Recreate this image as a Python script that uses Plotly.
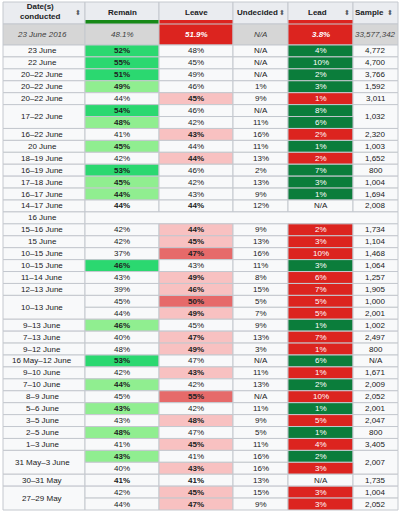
import plotly.graph_objects as go

# ---------------- data ----------------
headers = ["Date(s)<br>conducted", "Remain", "Leave", "Undecided", "Lead", "Sample"]
header_sortable = [True, False, False, True, True, True]

result_date = "23 June 2016"
result_remain = "48.1%"
result_leave = "51.9%"
result_undecided = "N/A"
result_lead = "3.8%"
result_sample = "33,577,342"

dates = ["23 June", "22 June", "20–22 June", "20–22 June", "20–22 June", "17–22 June", None,
         "16–22 June", "20 June", "18–19 June", "16–19 June", "17–18 June", "16–17 June",
         "14–17 June", "16 June", "15–16 June", "15 June", "10–15 June", "10–15 June",
         "11–14 June", "12–13 June", "10–13 June", None, "9–13 June", "7–13 June", "9–12 June",
         "16 May–12 June", "9–10 June", "7–10 June", "8–9 June", "5–6 June", "3–5 June",
         "2–5 June", "1–3 June", "31 May–3 June", None, "30–31 May", "27–29 May", None]
remain = [52, 55, 51, 49, 44, 54, 48, 41, 45, 42, 53, 45, 44, 44, None, 42, 42, 37, 46, 43,
          39, 45, 44, 46, 40, 48, 53, 42, 44, 45, 43, 43, 48, 41, 43, 40, 41, 42, 44]
leave = [48, 45, 49, 46, 45, 46, 42, 43, 44, 44, 46, 42, 43, 44, None, 44, 45, 47, 43, 49,
         46, 50, 49, 45, 47, 49, 47, 43, 42, 55, 42, 48, 47, 45, 41, 43, 41, 45, 47]
undecided = [None, None, None, 1, 9, None, 11, 16, 11, 13, 2, 13, 9, 12, None, 9, 13, 16, 11, 8,
             15, 5, 7, 9, 13, 3, None, 11, 13, None, 11, 9, 5, 11, 16, 16, 13, 15, 9]
lead = [4, 10, 2, 3, 1, 8, 6, 2, 1, 2, 7, 3, 1, None, None, 2, 3, 10, 3, 6,
        7, 5, 5, 1, 7, 1, 6, 1, 2, 10, 1, 5, 1, 4, 2, 3, None, 3, 3]
sample = ["4,772", "4,700", "3,766", "1,592", "3,011", "1,032", None, "2,320", "1,003", "1,652",
          "800", "1,004", "1,694", "2,008", "", "1,734", "1,104", "1,468", "1,064", "1,257",
          "1,905", "1,000", "2,001", "1,002", "2,497", "800", "N/A", "1,671", "2,009", "2,052",
          "2,001", "2,047", "800", "3,405", "2,007", None, "1,735", "1,004", "2,052"]
# shading categories (H = strong, L = light, M = medium, P = pale)
remain_shade = ["H", "H", "H", "L", "", "H", "L", "", "L", "", "H", "L", "L", "", "", "", "", "",
                "H", "", "", "", "", "L", "", "", "H", "", "L", "", "L", "", "L", "", "L", "",
                "", "", ""]
leave_shade = ["", "", "", "", "P", "", "", "P", "", "P", "", "", "", "", "", "P", "P", "M", "",
               "P", "P", "M", "P", "", "P", "P", "", "P", "", "M", "", "P", "", "P", "", "P",
               "", "P", "P"]

# ---------------- styling ----------------
FONT = "Liberation Sans, Arial, Helvetica, sans-serif"
TEXT = "#202122"
BORDER = "#c4c8ce"
CELL_BG = "#f8f9fa"
HEAD_BG = "#eaecf0"
RESULT_BG = "#d6d6d6"
GREEN_H = "#2bd870"
GREEN_L = "#90ee90"
LEAD_GREEN = "#0b7d3b"
RED = "#dc241f"
RED_M = "#e66a6a"
RED_P = "#f8c1c1"
BAR_GREEN = "#178917"

col_edges = [3, 85, 159, 233, 288, 353, 398]
col_text_x = [42, 122, 196, 260.5, 320.5, 375.5]
head_text_x = [40, 122, 196, 257, 317, 369]
arrow_x = [78, None, None, 282, 347, 390]
HEAD_TOP, HEAD_BOT, BAR_H = 2, 24, 4
RES_BOT = 45
TABLE_BOT = 510
n = len(dates)
row_h = (TABLE_BOT - RES_BOT) / n


def row_top(i):
    return RES_BOT + i * row_h


shapes = []
annotations = []


def cell(x0, x1, y0, y1, fill, border=True):
    shapes.append(dict(type="rect", xref="x", yref="y", x0=x0, x1=x1, y0=y0, y1=y1,
                       fillcolor=fill, layer="below",
                       line=dict(color=BORDER if border else fill, width=1 if border else 0)))


def label(x, y, text, color=TEXT, bold=False, italic=False, size=8):
    t = text
    if bold:
        t = "<b>" + t + "</b>"
    if italic:
        t = "<i>" + t + "</i>"
    annotations.append(dict(x=x, y=y, xref="x", yref="y", text=t, showarrow=False,
                            xanchor="center", yanchor="middle",
                            font=dict(family=FONT, size=size, color=color)))


# header
for c in range(6):
    cell(col_edges[c], col_edges[c + 1], HEAD_TOP, HEAD_BOT, HEAD_BG)
    label(head_text_x[c], (HEAD_TOP + HEAD_BOT - BAR_H) / 2 + 1.5 if c else 11.5,
          headers[c], bold=True)
    if header_sortable[c]:
        label(arrow_x[c], 12, "⬍", color="#54595d", size=7)
for c, colr in [(1, BAR_GREEN), (2, RED), (4, RED)]:
    cell(col_edges[c] + 0.5, col_edges[c + 1] - 0.5, HEAD_BOT - BAR_H, HEAD_BOT, colr, border=False)

# result row
res_vals = [result_date, result_remain, result_leave, result_undecided, result_lead, result_sample]
ymid = (HEAD_BOT + RES_BOT) / 2
for c in range(6):
    fill = RED if c in (2, 4) else RESULT_BG
    cell(col_edges[c], col_edges[c + 1], HEAD_BOT, RES_BOT, fill)
    if c in (2, 4):
        label(col_text_x[c], ymid, res_vals[c], color="white", bold=True, italic=True)
    else:
        label(col_text_x[c], ymid, res_vals[c], color="#404040", italic=True)


def span_len(lst, i):
    k = 1
    while i + k < len(lst) and lst[i + k] is None:
        k += 1
    return k


shade_fill = {"H": GREEN_H, "L": GREEN_L, "M": RED_M, "P": RED_P, "": CELL_BG}

for i in range(n):
    y0, y1 = row_top(i), row_top(i + 1)
    ym = (y0 + y1) / 2
    # date column (may span several rows)
    if dates[i] is not None:
        k = span_len(dates, i)
        cell(col_edges[0], col_edges[1], y0, row_top(i + k), CELL_BG)
        label(col_text_x[0], (y0 + row_top(i + k)) / 2, dates[i])
    if remain[i] is None:
        cell(col_edges[1], col_edges[6], y0, y1, CELL_BG)
        continue
    r, l = remain[i], leave[i]
    # remain
    cell(col_edges[1], col_edges[2], y0, y1, shade_fill[remain_shade[i]])
    label(col_text_x[1], ym, f"{r}%", bold=r >= l)
    # leave
    cell(col_edges[2], col_edges[3], y0, y1, shade_fill[leave_shade[i]])
    label(col_text_x[2], ym, f"{l}%", bold=l >= r)
    # undecided
    cell(col_edges[3], col_edges[4], y0, y1, CELL_BG)
    label(col_text_x[3], ym, "N/A" if undecided[i] is None else f"{undecided[i]}%")
    # lead
    if lead[i] is None:
        cell(col_edges[4], col_edges[5], y0, y1, CELL_BG)
        label(col_text_x[4], ym, "N/A")
    else:
        cell(col_edges[4], col_edges[5], y0, y1, LEAD_GREEN if r > l else RED)
        label(col_text_x[4], ym, f"{lead[i]}%", color="white")
    # sample (may span)
    if sample[i] is not None:
        k = span_len(sample, i)
        cell(col_edges[5], col_edges[6], y0, row_top(i + k), CELL_BG)
        label(col_text_x[5], (y0 + row_top(i + k)) / 2, sample[i])

fig = go.Figure()
fig.update_layout(
    width=400, height=511,
    margin=dict(l=0, r=0, t=0, b=0),
    paper_bgcolor="white", plot_bgcolor="white",
    xaxis=dict(range=[0, 400], visible=False, fixedrange=True),
    yaxis=dict(range=[511, 0], visible=False, fixedrange=True),
    shapes=shapes, annotations=annotations,
    showlegend=False,
)
fig.write_html("out.html", config={"displayModeBar": False},
               post_script="document.body.style.margin='0';document.body.style.overflow='hidden';")
